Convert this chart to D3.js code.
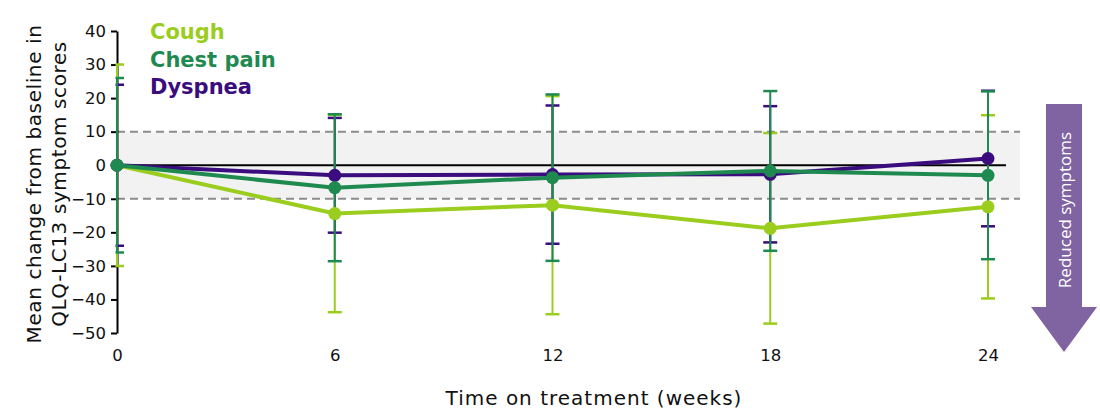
<!DOCTYPE html>
<html>
<head>
<meta charset="utf-8">
<script src="https://cdn.jsdelivr.net/npm/d3@7"></script>
<style>
  body { margin: 0; background: #fff; }
  svg { font-family: "DejaVu Sans", Verdana, sans-serif; }
</style>
</head>
<body>
<svg id="svg" width="1100" height="420"></svg>
<script>
// data
var weeks = [0, 6, 12, 18, 24];
var seriesNames = ["Cough", "Chest pain", "Dyspnea"];
var seriesColors = ["#9bcd1f", "#1f8a50", "#3a0c7e"];
var coughMean = [0, -14.4, -11.9, -18.8, -12.4];
var coughSD = [30, 29.4, 32.5, 28.4, 27.3];
var chestMean = [0, -6.7, -3.7, -1.7, -3.0];
var chestSD = [26, 21.9, 24.8, 23.8, 25.0];
var dyspneaMean = [0, -3.0, -2.8, -2.7, 2.0];
var dyspneaSD = [24, 17.1, 20.6, 20.3, 20.2];
var yTicks = [40, 30, 20, 10, 0, -10, -20, -30, -40, -50];

var svg = d3.select("#svg");

var xScale = d3.scaleLinear().domain([0, 24]).range([117, 988]);
var yScale = d3.scaleLinear().domain([-50, 40]).range([333, 31]);

// grey "no change" band
svg.append("rect")
  .attr("x", xScale(0))
  .attr("y", yScale(10))
  .attr("width", 1020 - xScale(0))
  .attr("height", yScale(-10) - yScale(10))
  .attr("fill", "#f2f2f2");

[10, -10].forEach(function (v) {
  svg.append("line")
    .attr("x1", xScale(0)).attr("x2", 1020)
    .attr("y1", yScale(v)).attr("y2", yScale(v))
    .attr("stroke", "#8c8c8c")
    .attr("stroke-width", 2)
    .attr("stroke-dasharray", "8,5");
});

svg.append("line")
  .attr("x1", xScale(0)).attr("x2", 1006)
  .attr("y1", yScale(0)).attr("y2", yScale(0))
  .attr("stroke", "#000")
  .attr("stroke-width", 2);

// y axis
var yAxis = svg.append("g")
  .attr("transform", "translate(" + xScale(0) + ",0)")
  .call(d3.axisLeft(yScale).tickValues(yTicks).tickSize(6).tickSizeOuter(0).tickPadding(5));
yAxis.select(".domain").attr("stroke-width", 2);
yAxis.selectAll(".tick line").attr("stroke-width", 2);
yAxis.selectAll("text")
  .attr("font-size", 16.5)
  .attr("font-family", "DejaVu Sans, Verdana, sans-serif")
  .attr("fill", "#111");

// x axis labels only
var xAxis = svg.append("g")
  .attr("transform", "translate(0," + 342 + ")")
  .call(d3.axisBottom(xScale).tickValues(weeks).tickSize(0).tickPadding(7));
xAxis.select(".domain").remove();
xAxis.selectAll("text")
  .attr("font-size", 16.5)
  .attr("font-family", "DejaVu Sans, Verdana, sans-serif")
  .attr("fill", "#111");

var series = [
  { name: seriesNames[0], color: seriesColors[0], mean: coughMean, sd: coughSD },
  { name: seriesNames[1], color: seriesColors[1], mean: chestMean, sd: chestSD },
  { name: seriesNames[2], color: seriesColors[2], mean: dyspneaMean, sd: dyspneaSD }
];
var drawOrder = [series[0], series[2], series[1]];

// clip so the caps at week 0 only show right of the axis
svg.append("clipPath").attr("id", "plotclip")
  .append("rect").attr("x", xScale(0) - 1.5).attr("y", 0).attr("width", 1000).attr("height", 420);

var errG = svg.append("g").attr("clip-path", "url(#plotclip)");
drawOrder.forEach(function (s) {
  var g = errG.append("g");
  weeks.forEach(function (w, i) {
    var cx = xScale(w);
    var top = yScale(s.mean[i] + s.sd[i]);
    var bot = yScale(s.mean[i] - s.sd[i]);
    g.append("line").attr("x1", cx).attr("x2", cx).attr("y1", top).attr("y2", bot)
      .attr("stroke", s.color).attr("stroke-width", 2);
    [top, bot].forEach(function (yy) {
      g.append("line").attr("x1", cx - 7).attr("x2", cx + 7).attr("y1", yy).attr("y2", yy)
        .attr("stroke", s.color).attr("stroke-width", 2.5);
    });
  });
});

var line = d3.line()
  .x(function (d) { return xScale(d[0]); })
  .y(function (d) { return yScale(d[1]); });

drawOrder.forEach(function (s) {
  var pts = weeks.map(function (w, i) { return [w, s.mean[i]]; });
  svg.append("path")
    .datum(pts)
    .attr("d", line)
    .attr("fill", "none")
    .attr("stroke", s.color)
    .attr("stroke-width", 4);
  svg.selectAll(null)
    .data(pts)
    .enter()
    .append("circle")
    .attr("cx", function (d) { return xScale(d[0]); })
    .attr("cy", function (d) { return yScale(d[1]); })
    .attr("r", 6.5)
    .attr("fill", s.color);
});

// legend
series.forEach(function (s, i) {
  svg.append("text")
    .attr("x", 150)
    .attr("y", 39 + i * 27.5)
    .attr("font-size", 21)
    .attr("font-weight", "bold")
    .attr("fill", s.color)
    .text(s.name);
});

// axis titles
svg.append("text")
  .attr("transform", "translate(41,184) rotate(-90)")
  .attr("text-anchor", "middle")
  .attr("font-size", 20)
  .attr("letter-spacing", 0.6)
  .attr("fill", "#111")
  .text("Mean change from baseline in");
svg.append("text")
  .attr("transform", "translate(66,184) rotate(-90)")
  .attr("text-anchor", "middle")
  .attr("font-size", 20)
  .attr("letter-spacing", 0.6)
  .attr("fill", "#111")
  .text("QLQ-LC13 symptom scores");

svg.append("text")
  .attr("x", 594)
  .attr("y", 405)
  .attr("text-anchor", "middle")
  .attr("font-size", 20)
  .attr("letter-spacing", 1)
  .attr("fill", "#111")
  .text("Time on treatment (weeks)");

// arrow
var arrowPts = [[1046, 104], [1082, 104], [1082, 307], [1097, 307], [1064, 352], [1031, 307], [1046, 307]];
svg.append("polygon")
  .attr("points", arrowPts.map(function (p) { return p.join(","); }).join(" "))
  .attr("fill", "#8064a2");
svg.append("text")
  .attr("transform", "translate(1071,210) rotate(-90)")
  .attr("text-anchor", "middle")
  .attr("font-family", "Open Sans, sans-serif")
  .attr("font-size", 17)
  .attr("fill", "#fff")
  .text("Reduced symptoms");
</script>
</body>
</html>
